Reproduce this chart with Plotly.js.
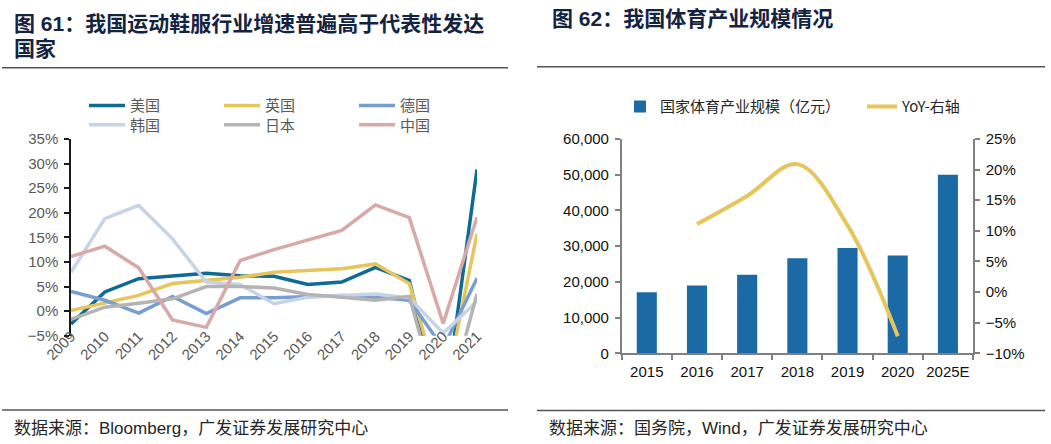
<!DOCTYPE html>
<html>
<head>
<meta charset="utf-8">
<script src="https://cdn.plot.ly/plotly-3.0.1.min.js"></script>
<style>
html,body{margin:0;padding:0;background:#ffffff;}
#chart{width:1051px;height:444px;}
</style>
</head>
<body>
<div id="chart"></div>
<script>
// ---- Data: figure 61 (sportswear growth, %) ----
const years = ['2009','2010','2011','2012','2013','2014','2015','2016','2017','2018','2019','2020','2021'];
const usGrowth = [-2.6, 3.9, 6.6, 7.1, 7.7, 7.2, 7.1, 5.4, 5.9, 8.9, 6.2, -22, 28.8];
const ukGrowth = [0.1, 1.6, 3.2, 5.6, 6.2, 6.9, 7.9, 8.3, 8.6, 9.6, 5.6, -18, 15.7];
const deGrowth = [4.0, 2.2, -0.4, 3.0, -0.5, 2.7, 2.7, 3.0, 3.2, 2.8, 2.2, -7.5, 6.7];
const krGrowth = [7.9, 18.8, 21.5, 14.7, 5.9, 5.4, 1.5, 2.8, 3.2, 3.5, 2.7, -4.5, 2.0];
const jpGrowth = [-1.7, 0.8, 1.6, 2.5, 5.0, 5.0, 4.7, 3.4, 2.8, 2.2, 3.0, -22, 3.5];
const cnGrowth = [11.1, 13.2, 8.8, -1.8, -3.3, 10.3, 12.5, 14.4, 16.4, 21.6, 19.0, -2.5, 19.1];
const countryNames = ['美国','英国','德国','韩国','日本','中国'];

// ---- Data: figure 62 (sports industry scale) ----
const sportYears = ['2015','2016','2017','2018','2019','2020','2025E'];
const sportScale = [17107, 19011, 21988, 26579, 29483, 27372, 50000];
const yoyYears = ['2016','2017','2018','2019','2020'];
const yoyGrowth = [11.1, 15.7, 20.9, 10.9, -7.2];

// ---- Text ----
const title61a = '图 61：我国运动鞋服行业增速普遍高于代表性发达';
const title61b = '国家';
const title62 = '图 62：我国体育产业规模情况';
const source61 = '数据来源：Bloomberg，广发证券发展研究中心';
const source62 = '数据来源：国务院，Wind，广发证券发展研究中心';
const barName = '国家体育产业规模（亿元）';
const lineName = 'YoY-右轴';

// ---- helpers for pixel -> paper ----
const W = 1051, H = 444;
const px = v => v / W;
const py = v => 1 - v / H;

const CJK = 'Noto Sans CJK SC, sans-serif';
const LAT = 'Liberation Sans, Arial, Noto Sans CJK SC, sans-serif';

const leftY = [py(335.7), py(139)];
const leftRange = [-5, 35];
const zeroPos = leftY[0] + (0 - leftRange[0]) / (leftRange[1] - leftRange[0]) * (leftY[1] - leftY[0]);

const lineColors = ['#0f6a96', '#e6c65c', '#789ed0', '#c7d4e8', '#b4b4b4', '#d7a9a8'];
const seriesList = [usGrowth, ukGrowth, deGrowth, krGrowth, jpGrowth, cnGrowth];

const traces = seriesList.map((s, i) => ({
  type: 'scatter', mode: 'lines',
  x: years, y: s, name: countryNames[i],
  xaxis: 'x', yaxis: 'y',
  line: {color: lineColors[i], width: 3.5},
  legend: i < 3 ? 'legend' : 'legend2',
  hoverinfo: 'skip'
}));

traces.push({
  type: 'bar', x: sportYears, y: sportScale, name: barName,
  xaxis: 'x3', yaxis: 'y3',
  marker: {color: '#1b6aa5'},
  legend: 'legend3', hoverinfo: 'skip'
});
traces.push({
  type: 'scatter', mode: 'lines', x: yoyYears, y: yoyGrowth, name: lineName,
  xaxis: 'x3', yaxis: 'y4',
  line: {color: '#e6c65c', width: 4, shape: 'spline', smoothing: 1},
  legend: 'legend3', hoverinfo: 'skip'
});

const legendBase = {
  orientation: 'h', xref: 'paper', yref: 'paper', xanchor: 'left', yanchor: 'middle',
  bgcolor: 'rgba(0,0,0,0)', borderwidth: 0, itemwidth: 36,
  entrywidth: 84, entrywidthmode: 'pixels', itemclick: false, itemdoubleclick: false,
  font: {family: CJK, size: 15, color: '#595959'}
};

const layout = {
  width: W, height: H,
  margin: {l: 0, r: 0, t: 0, b: 0, autoexpand: false},
  paper_bgcolor: '#ffffff', plot_bgcolor: 'rgba(0,0,0,0)',
  font: {family: LAT, size: 15, color: '#595959'},
  showlegend: true,
  bargap: 0.6,
  xaxis: {
    domain: [px(71), px(477)], anchor: 'y', type: 'category',
    showline: false, ticks: '', showgrid: false, zeroline: false,
    tickangle: -45, ticklabelstandoff: -12,
    tickfont: {family: LAT, size: 15, color: '#595959'},
    fixedrange: true
  },
  xaxis2: {
    domain: [px(71), px(477)], overlaying: 'x', anchor: 'free', position: zeroPos,
    matches: 'x', type: 'category',
    showline: true, linecolor: '#1a1a1a', linewidth: 1.5,
    ticks: 'outside', ticklen: 5, tickwidth: 1.5, tickcolor: '#1a1a1a', tickson: 'boundaries',
    showticklabels: false, showgrid: false, zeroline: false, fixedrange: true
  },
  yaxis: {
    domain: leftY, anchor: 'x', range: leftRange, dtick: 5, ticksuffix: '%',
    showline: true, linecolor: '#1a1a1a', linewidth: 1.5,
    ticks: 'outside', ticklen: 5, tickwidth: 1.5, tickcolor: '#1a1a1a',
    showgrid: false, zeroline: false, ticklabelstandoff: 3,
    tickfont: {family: LAT, size: 15, color: '#595959'}, fixedrange: true
  },
  xaxis3: {
    domain: [px(621.7), px(973)], anchor: 'y3', type: 'category',
    showline: true, linecolor: '#808080', linewidth: 1.5,
    ticks: 'outside', ticklen: 5, tickwidth: 1.5, tickcolor: '#808080', tickson: 'boundaries',
    tickangle: 0,
    showgrid: false, zeroline: false, ticklabelstandoff: 4,
    tickfont: {family: LAT, size: 15, color: '#111111'}, fixedrange: true
  },
  yaxis3: {
    domain: [py(353.3), py(139)], anchor: 'x3', range: [0, 60000], dtick: 10000, tickformat: ',',
    showline: true, linecolor: '#808080', linewidth: 1.5,
    ticks: 'outside', ticklen: 5, tickwidth: 1.5, tickcolor: '#808080',
    showgrid: false, zeroline: false, ticklabelstandoff: 3,
    tickfont: {family: LAT, size: 15, color: '#111111'}, fixedrange: true
  },
  yaxis4: {
    domain: [py(353.3), py(139)], anchor: 'x3', overlaying: 'y3', side: 'right',
    range: [-10, 25], dtick: 5, ticksuffix: '%',
    showline: true, linecolor: '#808080', linewidth: 1.5,
    ticks: 'outside', ticklen: 5, tickwidth: 1.5, tickcolor: '#808080',
    showgrid: false, zeroline: false, ticklabelstandoff: 3,
    tickfont: {family: LAT, size: 15, color: '#111111'}, fixedrange: true
  },
  legend: Object.assign({}, legendBase, {x: px(84), y: py(105.7)}),
  legend2: Object.assign({}, legendBase, {x: px(84), y: py(125)}),
  legend3: Object.assign({}, legendBase, {
    x: px(620), y: py(106.7), itemwidth: 30, entrywidth: 197,
    font: {family: CJK, size: 15, color: '#262626'}
  }),
  shapes: [
    {type: 'line', xref: 'paper', yref: 'paper', x0: px(2), x1: px(508), y0: py(67.7), y1: py(67.7), line: {color: '#555555', width: 1.5}},
    {type: 'line', xref: 'paper', yref: 'paper', x0: px(537), x1: px(1045), y0: py(66.7), y1: py(66.7), line: {color: '#555555', width: 1.5}},
    {type: 'line', xref: 'paper', yref: 'paper', x0: px(2), x1: px(508), y0: py(410), y1: py(410), line: {color: '#555555', width: 1.5}},
    {type: 'line', xref: 'paper', yref: 'paper', x0: px(537), x1: px(1045), y0: py(410.5), y1: py(410.5), line: {color: '#555555', width: 1.5}}
  ],
  annotations: [
    {text: title61a, xref: 'paper', yref: 'paper', x: px(12), y: py(23), xanchor: 'left', yanchor: 'middle', showarrow: false,
     font: {family: LAT, size: 21, color: '#14233f', weight: 700}},
    {text: title61b, xref: 'paper', yref: 'paper', x: px(12), y: py(48), xanchor: 'left', yanchor: 'middle', showarrow: false,
     font: {family: LAT, size: 21, color: '#14233f', weight: 700}},
    {text: title62, xref: 'paper', yref: 'paper', x: px(550), y: py(18.5), xanchor: 'left', yanchor: 'middle', showarrow: false,
     font: {family: LAT, size: 21, color: '#14233f', weight: 700}},
    {text: source61, xref: 'paper', yref: 'paper', x: px(12), y: py(428), xanchor: 'left', yanchor: 'middle', showarrow: false,
     font: {family: LAT, size: 17, color: '#262626'}},
    {text: source62, xref: 'paper', yref: 'paper', x: px(547), y: py(428), xanchor: 'left', yanchor: 'middle', showarrow: false,
     font: {family: LAT, size: 17, color: '#262626'}}
  ]
};

Plotly.newPlot('chart', traces, layout, {displayModeBar: false, responsive: false});
</script>
</body>
</html>
